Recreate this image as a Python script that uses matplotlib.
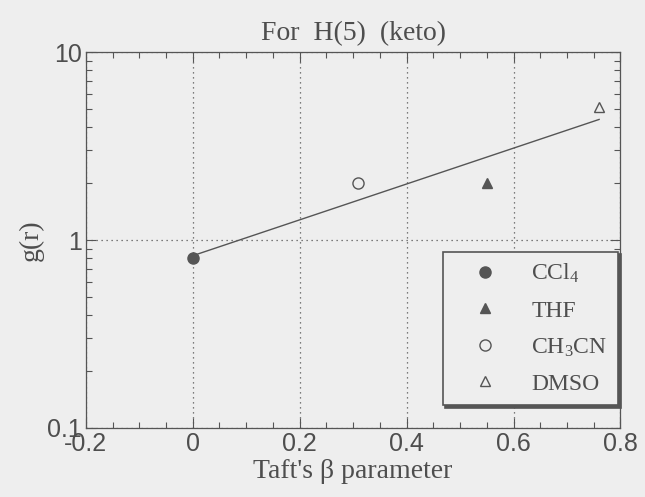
import numpy as np
import matplotlib.pyplot as plt
from matplotlib.ticker import MultipleLocator, LogLocator, NullFormatter

# Taft's beta parameter and g(r) for each solvent
solvents = ["CCl$_4$", "THF", "CH$_3$CN", "DMSO"]
beta = [0.0, 0.55, 0.31, 0.76]
g_r = [0.80, 2.0, 2.0, 5.1]
markers = ["o", "^", "o", "^"]
filled = [True, True, False, False]

x_ticks = [-0.2, 0, 0.2, 0.4, 0.6, 0.8]
x_labels = ["-0.2", "0", "0.2", "0.4", "0.6", "0.8"]
y_ticks = [0.1, 1, 10]
y_labels = ["0.1", "1", "10"]

ink = "#555555"
txt = "#4e4e4e"
bg = "#eeeeee"
serif = "Liberation Serif"
sans = "Liberation Sans"

plt.rcParams["mathtext.fontset"] = "custom"
plt.rcParams["mathtext.rm"] = serif
plt.rcParams["mathtext.it"] = serif + ":italic"

fig = plt.figure(figsize=(6.45, 4.97), dpi=100, facecolor=bg)
ax = fig.add_axes([0.133, 0.139, 0.829, 0.756], facecolor=bg)

ax.set_xlim(-0.2, 0.8)
ax.set_yscale("log")
ax.set_ylim(0.1, 10)

# least-squares fit of log10 g(r) against beta
slope, intercept = np.polyfit(beta, np.log10(g_r), 1)
xf = np.array([0.0, max(beta)])
ax.plot(xf, 10 ** (intercept + slope * xf), color=ink, lw=1.0, zorder=3)

handles = []
for b, g, m, f, name in zip(beta, g_r, markers, filled, solvents):
    h, = ax.plot([b], [g], linestyle="none", marker=m, ms=8 if m == "o" else 7,
                 mfc=ink if f else "none", mec=ink, mew=1.0, label=name, zorder=4)
    handles.append(h)

# grid and ticks
ax.xaxis.set_minor_locator(MultipleLocator(0.05))
ax.yaxis.set_minor_locator(LogLocator(base=10, subs=np.arange(2, 10)))
ax.yaxis.set_minor_formatter(NullFormatter())
ax.set_xticks(x_ticks)
ax.set_xticklabels(x_labels)
ax.set_yticks(y_ticks)
ax.set_yticklabels(y_labels)
ax.grid(True, which="major", linestyle=(0, (1, 3)), color=ink, lw=0.9)
ax.tick_params(which="both", direction="in", top=True, right=True,
               colors=ink, labelcolor=txt)
ax.tick_params(which="major", length=7, width=0.8, labelsize=18, pad=3)
ax.tick_params(which="minor", length=4, width=0.8)
for lab in ax.get_xticklabels() + ax.get_yticklabels():
    lab.set_family(sans)
for sp in ax.spines.values():
    sp.set_color(ink)
    sp.set_linewidth(0.9)

ax.set_title("For  H(5)  (keto)", family=serif, fontsize=20, color=txt, pad=9)
ax.set_xlabel("Taft's β parameter", family=serif, fontsize=20, color=txt, labelpad=2)
ax.set_ylabel("g(r)", family=serif, fontsize=20, color=txt, labelpad=2)

leg = ax.legend(handles=handles, loc="lower right", bbox_to_anchor=(0.995, 0.06),
                prop={"family": serif, "size": 17}, frameon=True, fancybox=False,
                shadow={"color": "#555555", "alpha": 1.0}, borderpad=0.45,
                labelspacing=0.62, handletextpad=0.6, handlelength=2.7,
                borderaxespad=0.0)
leg.get_frame().set_facecolor(bg)
leg.get_frame().set_edgecolor(ink)
leg.get_frame().set_linewidth(1.2)
for t in leg.get_texts():
    t.set_color(txt)

fig.savefig("out.png", dpi=100, facecolor=bg)
